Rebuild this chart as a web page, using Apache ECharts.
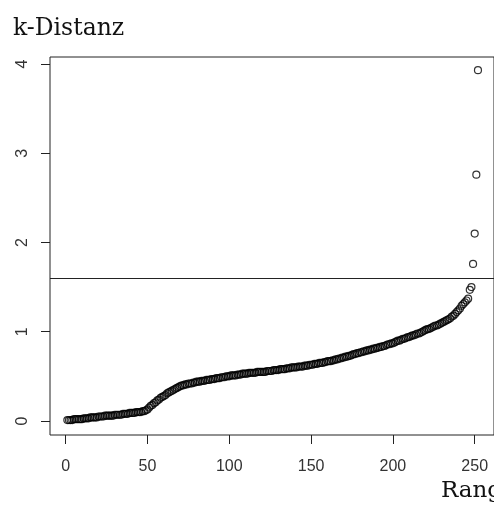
<!DOCTYPE html>
<html>
<head>
<meta charset="utf-8">
<script src="https://cdn.jsdelivr.net/npm/echarts@6/dist/echarts.min.js"></script>
<style>
  html, body { margin: 0; padding: 0; background: #fff; }
  #chart { width: 494px; height: 508px; }
</style>
</head>
<body>
<div id="chart"></div>
<script>
// sorted k-distances (rank 1..252)
const kDistances = [
  0.01,0.01,0.01,0.01,0.02,0.02,0.02,0.02,0.02,0.02,
  0.03,0.03,0.03,0.03,0.04,0.04,0.04,0.04,0.04,0.05,
  0.05,0.05,0.05,0.06,0.06,0.06,0.06,0.06,0.06,0.07,
  0.07,0.07,0.07,0.07,0.08,0.08,0.08,0.08,0.09,0.09,
  0.09,0.09,0.10,0.10,0.10,0.10,0.11,0.11,0.12,0.13,
  0.15,0.17,0.18,0.20,0.21,0.23,0.24,0.26,0.27,0.28,
  0.29,0.31,0.32,0.33,0.34,0.35,0.36,0.37,0.38,0.39,
  0.40,0.40,0.41,0.41,0.42,0.42,0.42,0.43,0.43,0.44,
  0.44,0.44,0.45,0.45,0.45,0.46,0.46,0.46,0.47,0.47,
  0.47,0.48,0.48,0.48,0.49,0.49,0.49,0.50,0.50,0.50,
  0.51,0.51,0.51,0.51,0.52,0.52,0.52,0.53,0.53,0.53,
  0.53,0.54,0.54,0.54,0.54,0.54,0.55,0.55,0.55,0.55,
  0.55,0.55,0.56,0.56,0.56,0.56,0.57,0.57,0.57,0.57,
  0.58,0.58,0.58,0.58,0.59,0.59,0.59,0.60,0.60,0.60,
  0.60,0.61,0.61,0.61,0.61,0.62,0.62,0.62,0.63,0.63,
  0.63,0.64,0.64,0.64,0.65,0.65,0.65,0.66,0.66,0.67,
  0.67,0.67,0.68,0.68,0.69,0.69,0.70,0.70,0.71,0.71,
  0.72,0.72,0.73,0.73,0.74,0.75,0.75,0.76,0.76,0.77,
  0.77,0.78,0.78,0.79,0.79,0.80,0.80,0.81,0.81,0.82,
  0.82,0.83,0.83,0.84,0.84,0.85,0.86,0.86,0.87,0.87,
  0.88,0.89,0.90,0.90,0.91,0.92,0.92,0.93,0.94,0.94,
  0.95,0.96,0.96,0.97,0.98,0.98,0.99,1.00,1.01,1.02,
  1.03,1.03,1.04,1.05,1.06,1.07,1.07,1.08,1.09,1.10,
  1.11,1.12,1.13,1.14,1.15,1.17,1.18,1.20,1.22,1.24,
  1.26,1.29,1.31,1.33,1.35,1.37,1.47,1.50,1.76,2.10,
  2.76,3.93
];
const ranks = kDistances.map((v, i) => i + 1);
const xTicks = [0, 50, 100, 150, 200, 250];
const yTicks = [0, 1, 2, 3, 4];
const epsThreshold = 1.6;
const titleText = 'k-Distanz';
const xName = 'Rang';

const points = ranks.map((r, i) => [r, kDistances[i]]);

const chart = echarts.init(document.getElementById('chart'), null, { renderer: 'canvas' });
chart.setOption({
  animation: false,
  backgroundColor: '#fff',
  title: [
    { text: titleText, left: 8, top: 12, padding: 5,
      textStyle: { fontFamily: 'DejaVu Serif', fontSize: 23.5, fontWeight: 'normal', color: '#111' } },
    { text: xName, left: 436, top: 475, padding: 5,
      textStyle: { fontFamily: 'DejaVu Serif', fontSize: 23, fontWeight: 'normal', color: '#111' } }
  ],
  grid: { left: 50, top: 57, width: 453, height: 378, show: true, borderColor: '#222', borderWidth: 1, backgroundColor: 'transparent' },
  xAxis: {
    type: 'value', min: -9.6, max: 261.8,
    axisLine: { show: false, onZero: false },
    splitLine: { show: false },
    axisTick: { show: true, inside: false, length: 9, customValues: xTicks, lineStyle: { color: '#222' } },
    axisLabel: { customValues: xTicks, margin: 24, fontFamily: 'Liberation Sans', fontSize: 16, color: '#333' }
  },
  yAxis: {
    type: 'value', min: -0.157, max: 4.078,
    axisLine: { show: false, onZero: false },
    splitLine: { show: false },
    axisTick: { show: true, inside: false, length: 9, customValues: yTicks, lineStyle: { color: '#222' } },
    axisLabel: { customValues: yTicks, rotate: 90, margin: 19, fontFamily: 'Liberation Sans', fontSize: 16, color: '#333' }
  },
  series: [{
    type: 'scatter',
    data: points,
    symbol: 'circle',
    symbolSize: 7,
    silent: true,
    itemStyle: { color: 'rgba(0,0,0,0)', borderColor: '#000', borderWidth: 1.2 },
    markLine: {
      silent: true,
      symbol: ['none', 'none'],
      label: { show: false },
      lineStyle: { color: '#222', width: 1, type: 'solid' },
      data: [{ yAxis: epsThreshold }]
    }
  }]
});
</script>
</body>
</html>
